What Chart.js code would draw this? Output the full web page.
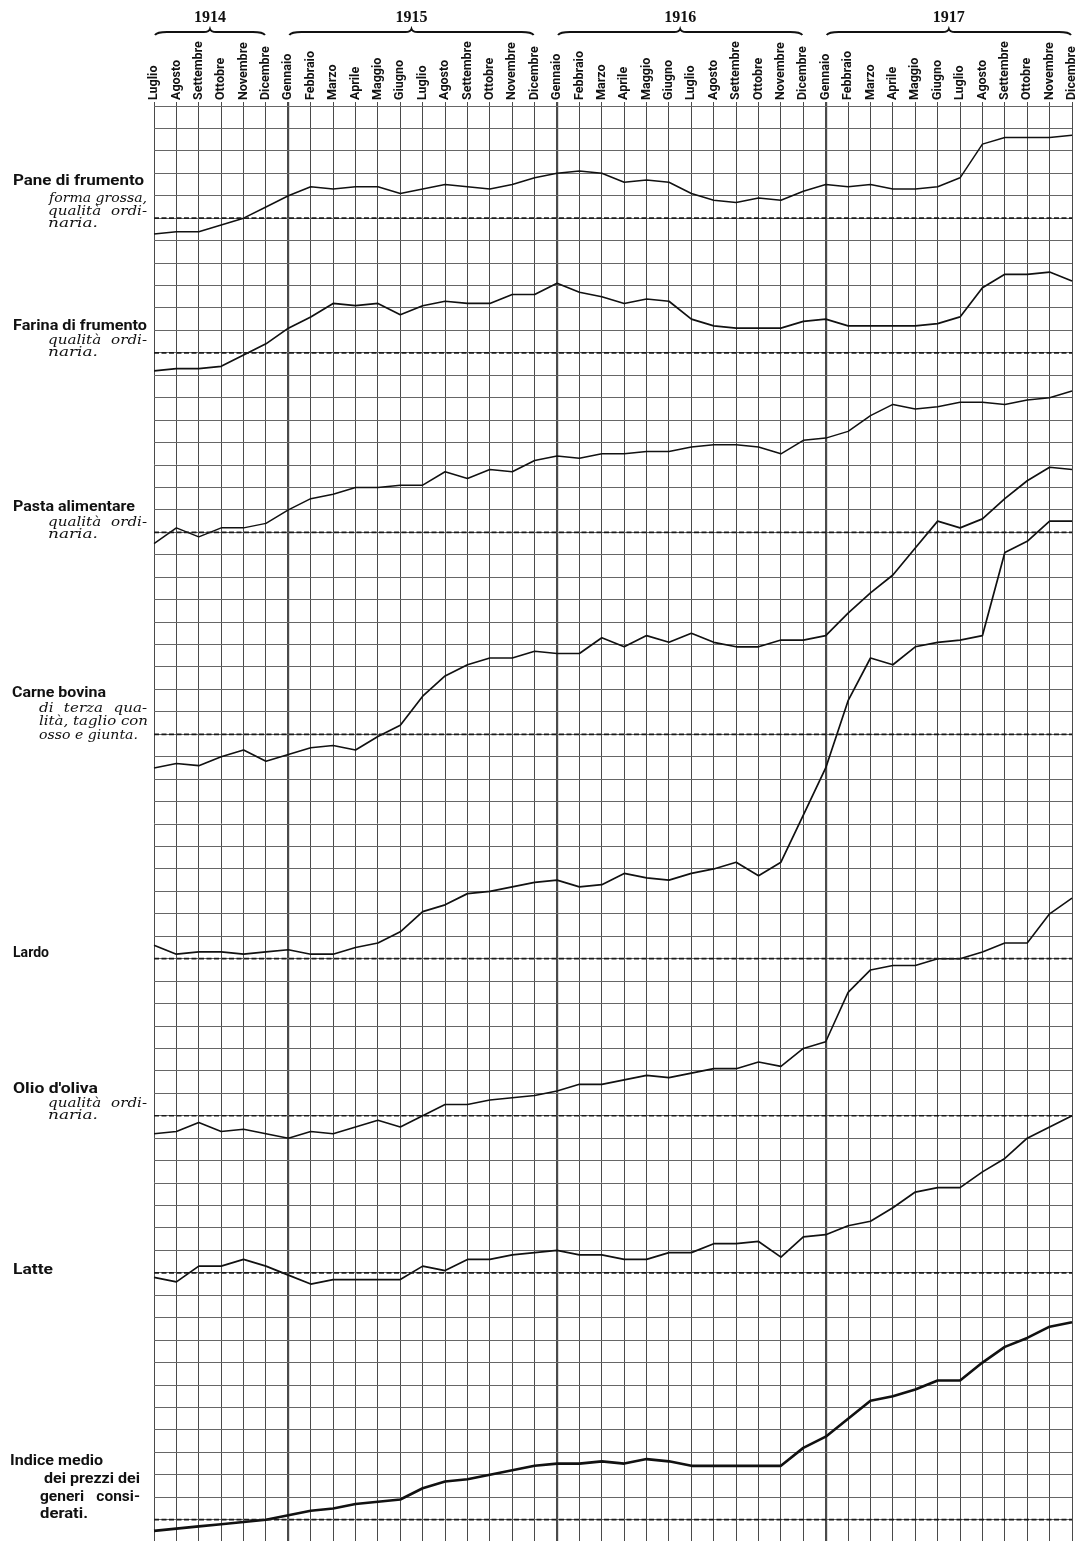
<!DOCTYPE html>
<html>
<head>
<meta charset="utf-8">
<script src="https://cdn.jsdelivr.net/npm/chart.js@4.4.1/dist/chart.umd.min.js"></script>
<style>
html,body{margin:0;padding:0;background:#fff;overflow:hidden}
#wrap{width:1081px;height:1541px;position:relative}
</style>
</head>
<body>
<div id="wrap"><canvas id="c"></canvas></div>
<script>
// ---------- DATA ----------
const months = ['Luglio','Agosto','Settembre','Ottobre','Novembre','Dicembre',
  'Gennaio','Febbraio','Marzo','Aprile','Maggio','Giugno','Luglio','Agosto','Settembre','Ottobre','Novembre','Dicembre',
  'Gennaio','Febbraio','Marzo','Aprile','Maggio','Giugno','Luglio','Agosto','Settembre','Ottobre','Novembre','Dicembre',
  'Gennaio','Febbraio','Marzo','Aprile','Maggio','Giugno','Luglio','Agosto','Settembre','Ottobre','Novembre','Dicembre'];
const years = ['1914','1915','1916','1917'];
const yearFirstMonth = [0, 6, 18, 30];
const yearLastMonth = [5, 17, 29, 41];

// index numbers (dashed line = 100)
const pane    = [93,94,94,97,100,105,110,114,113,114,114,111,113,115,114,113,115,118,120,121,120,116,117,116,111,108,107,109,108,112,115,114,115,113,113,114,118,133,136,136,136,137];
const farina  = [92,93,93,94,99,104,111,116,122,121,122,117,121,123,122,122,126,126,131,127,125,122,124,123,115,112,111,111,111,114,115,112,112,112,112,113,116,129,135,135,136,132];
const pasta   = [95,102,98,102,102,104,110,115,117,120,120,121,121,127,124,128,127,132,134,133,135,135,136,136,138,139,139,138,135,141,142,145,152,157,155,156,158,158,157,159,160,163];
const carne   = [85,87,86,90,93,88,91,94,95,93,99,104,117,126,131,134,134,137,136,136,143,139,144,141,145,141,139,139,142,142,144,154,163,171,183,195,192,196,205,213,219,218];
const lardo   = [106,102,103,103,102,103,104,102,102,105,107,112,121,124,129,130,132,134,135,132,133,138,136,135,138,140,143,137,143,164,185,215,234,231,239,241,242,244,281,286,295,295];
const olio    = [92,93,97,93,94,92,90,93,92,95,98,95,100,105,105,107,108,109,111,114,114,116,118,117,119,121,121,124,122,130,133,155,165,167,167,170,170,173,177,177,190,197];
const latte   = [98,96,103,103,106,103,99,95,97,97,97,97,103,101,106,106,108,109,110,108,108,106,106,109,109,113,113,114,107,116,117,121,123,129,136,138,138,145,151,160,165,170];
const indice  = [95,96,97,98,99,100,102,104,105,107,108,109,114,117,118,120,122,124,125,125,126,125,127,126,124,124,124,124,124,132,137,145,153,155,158,162,162,170,177,181,186,188];
const baseIndex = 100;

// ---------- LAYOUT ----------
const pointsPerRow = 10;           // one grid row = 10 index points
const series = [
  {values: pane,   baseRow: 5,  width: 1.5},
  {values: farina, baseRow: 11, width: 1.7},
  {values: pasta,  baseRow: 19, width: 1.5},
  {values: carne,  baseRow: 28, width: 1.7},
  {values: lardo,  baseRow: 38, width: 1.7},
  {values: olio,   baseRow: 45, width: 1.6},
  {values: latte,  baseRow: 52, width: 1.7},
  {values: indice, baseRow: 63, width: 2.6}
];
const toRow = (v, baseRow) => baseRow - (v - baseIndex) / pointsPerRow;

const datasets = [];
series.forEach(s => {
  datasets.push({
    data: months.map(() => toRow(baseIndex, s.baseRow)),
    borderColor: '#1a1a1a', borderWidth: 1.7, borderDash: [5, 2.5],
    pointRadius: 0, fill: false, tension: 0
  });
  datasets.push({
    data: s.values.map(v => toRow(v, s.baseRow)),
    borderColor: '#111', borderWidth: s.width,
    pointRadius: 0, fill: false, tension: 0, borderJoinStyle: 'round'
  });
});

const boldFont = '700 15.5px Roboto, "Liberation Sans", sans-serif';
const italFont = 'italic 13.5px "DejaVu Serif", "Liberation Serif", serif';
const sideText = [
  {t:'Pane di frumento', x:13, y:185, w:131, f:'b'},
  {t:'forma grossa,', x:49, y:202, w:98, f:'i'},
  {t:'qualità ordi-', x:48, y:215, w:99, f:'i'},
  {t:'naria.', x:48, y:227, w:50, f:'i'},
  {t:'Farina di frumento', x:13, y:330, w:134, f:'b'},
  {t:'qualità ordi-', x:48, y:344, w:99, f:'i'},
  {t:'naria.', x:48, y:356, w:50, f:'i'},
  {t:'Pasta alimentare', x:13, y:511, w:122, f:'b'},
  {t:'qualità ordi-', x:48, y:526, w:99, f:'i'},
  {t:'naria.', x:48, y:538, w:50, f:'i'},
  {t:'Carne bovina', x:12, y:697, w:94, f:'b'},
  {t:'di terza qua-', x:39, y:712, w:108, f:'i'},
  {t:'lità, taglio con', x:39, y:725, w:109, f:'i'},
  {t:'osso e giunta.', x:39, y:739, w:99, f:'i'},
  {t:'Lardo', x:13, y:957, w:36, f:'b'},
  {t:"Olio d'oliva", x:13, y:1093, w:85, f:'b'},
  {t:'qualità ordi-', x:48, y:1107, w:99, f:'i'},
  {t:'naria.', x:48, y:1119, w:50, f:'i'},
  {t:'Latte', x:13, y:1274, w:40, f:'b'},
  {t:'Indice medio', x:10, y:1465, w:93, f:'b'},
  {t:'dei prezzi dei', x:44, y:1483, w:96, f:'b'},
  {t:'generi consi-', x:40, y:1501, w:100, f:'b'},
  {t:'derati.', x:40, y:1518, w:48, f:'b'}
];

function drawText(ctx, txt, x, y, w, font, stretch) {
  ctx.font = font;
  const m = ctx.measureText(txt).width * stretch;
  const words = txt.split(' ');
  ctx.save();
  ctx.translate(x, y);
  if (txt.endsWith('-') && words.length > 1 && m < w) {
    // justified hyphenated line
    const ww = words.map(s => ctx.measureText(s).width * stretch);
    const sum = ww.reduce((a, b) => a + b, 0);
    const sp = (w - sum) / (words.length - 1);
    let cx = 0;
    words.forEach((s, k) => {
      ctx.save(); ctx.translate(cx, 0); ctx.scale(stretch, 1);
      ctx.fillText(s, 0, 0); ctx.restore();
      cx += ww[k] + sp;
    });
  } else {
    ctx.scale(w / m * stretch, 1);
    ctx.fillText(txt, 0, 0);
  }
  ctx.restore();
}

const decor = {
  id: 'decor',
  afterDraw(chart) {
    const ctx = chart.ctx;
    const xs = chart.scales.x;
    ctx.save();
    ctx.fillStyle = '#111';
    ctx.strokeStyle = '#111';
    ctx.textBaseline = 'alphabetic';
    ctx.textAlign = 'left';
    sideText.forEach(s => {
      if (s.f === 'b') drawText(ctx, s.t, s.x, s.y, s.w, boldFont, 1);
      else drawText(ctx, s.t, s.x, s.y, s.w, italFont, 1.12);
    });
    // years and braces
    years.forEach((yr, k) => {
      const x0 = xs.getPixelForValue(yearFirstMonth[k]) + 1;
      const x1 = xs.getPixelForValue(yearLastMonth[k]) - 1;
      const cx = (x0 + x1) / 2;
      ctx.font = '700 16px "Liberation Serif", "DejaVu Serif", serif';
      ctx.textAlign = 'center';
      ctx.textBaseline = 'middle';
      ctx.fillText(yr, cx, 18);
      ctx.lineWidth = 2;
      ctx.beginPath();
      ctx.moveTo(x0, 35);
      ctx.quadraticCurveTo(x0 + 2, 32, x0 + 12, 32);
      ctx.lineTo(cx - 6, 32);
      ctx.quadraticCurveTo(cx - 1, 32, cx, 29);
      ctx.quadraticCurveTo(cx + 1, 32, cx + 6, 32);
      ctx.lineTo(x1 - 12, 32);
      ctx.quadraticCurveTo(x1 - 2, 32, x1, 35);
      ctx.stroke();
    });
    ctx.restore();
  }
};

Chart.defaults.font.family = 'Roboto, "Liberation Sans", sans-serif';

new Chart(document.getElementById('c'), {
  type: 'line',
  data: {labels: months, datasets: datasets},
  options: {
    responsive: true,
    maintainAspectRatio: false,
    animation: false,
    events: [],
    layout: {padding: {left: 154, right: 9, top: 0, bottom: 0}},
    plugins: {legend: {display: false}, tooltip: {enabled: false}},
    scales: {
      x: {
        position: 'top',
        offset: false,
        afterFit(scale) { scale.height = 106; },
        border: {display: false},
        grid: {
          color: '#4a4a4a',
          lineWidth: c => [6, 18, 30].includes(c.index) ? 2.2 : 1,
          drawTicks: true,
          tickLength: 4,
          tickColor: '#4a4a4a'
        },
        ticks: {
          autoSkip: false,
          maxRotation: 90,
          minRotation: 90,
          padding: 2,
          labelOffset: 15,
          color: '#111',
          font: {size: 12.5, weight: '700', family: 'Roboto'}
        }
      },
      y: {
        reverse: true,
        min: 0,
        max: 63.95,
        afterFit(scale) { scale.width = 0; },
        border: {display: false},
        grid: {color: '#666', lineWidth: 1, drawTicks: false},
        ticks: {display: false, stepSize: 1}
      }
    }
  },
  plugins: [decor]
});
</script>
</body>
</html>
